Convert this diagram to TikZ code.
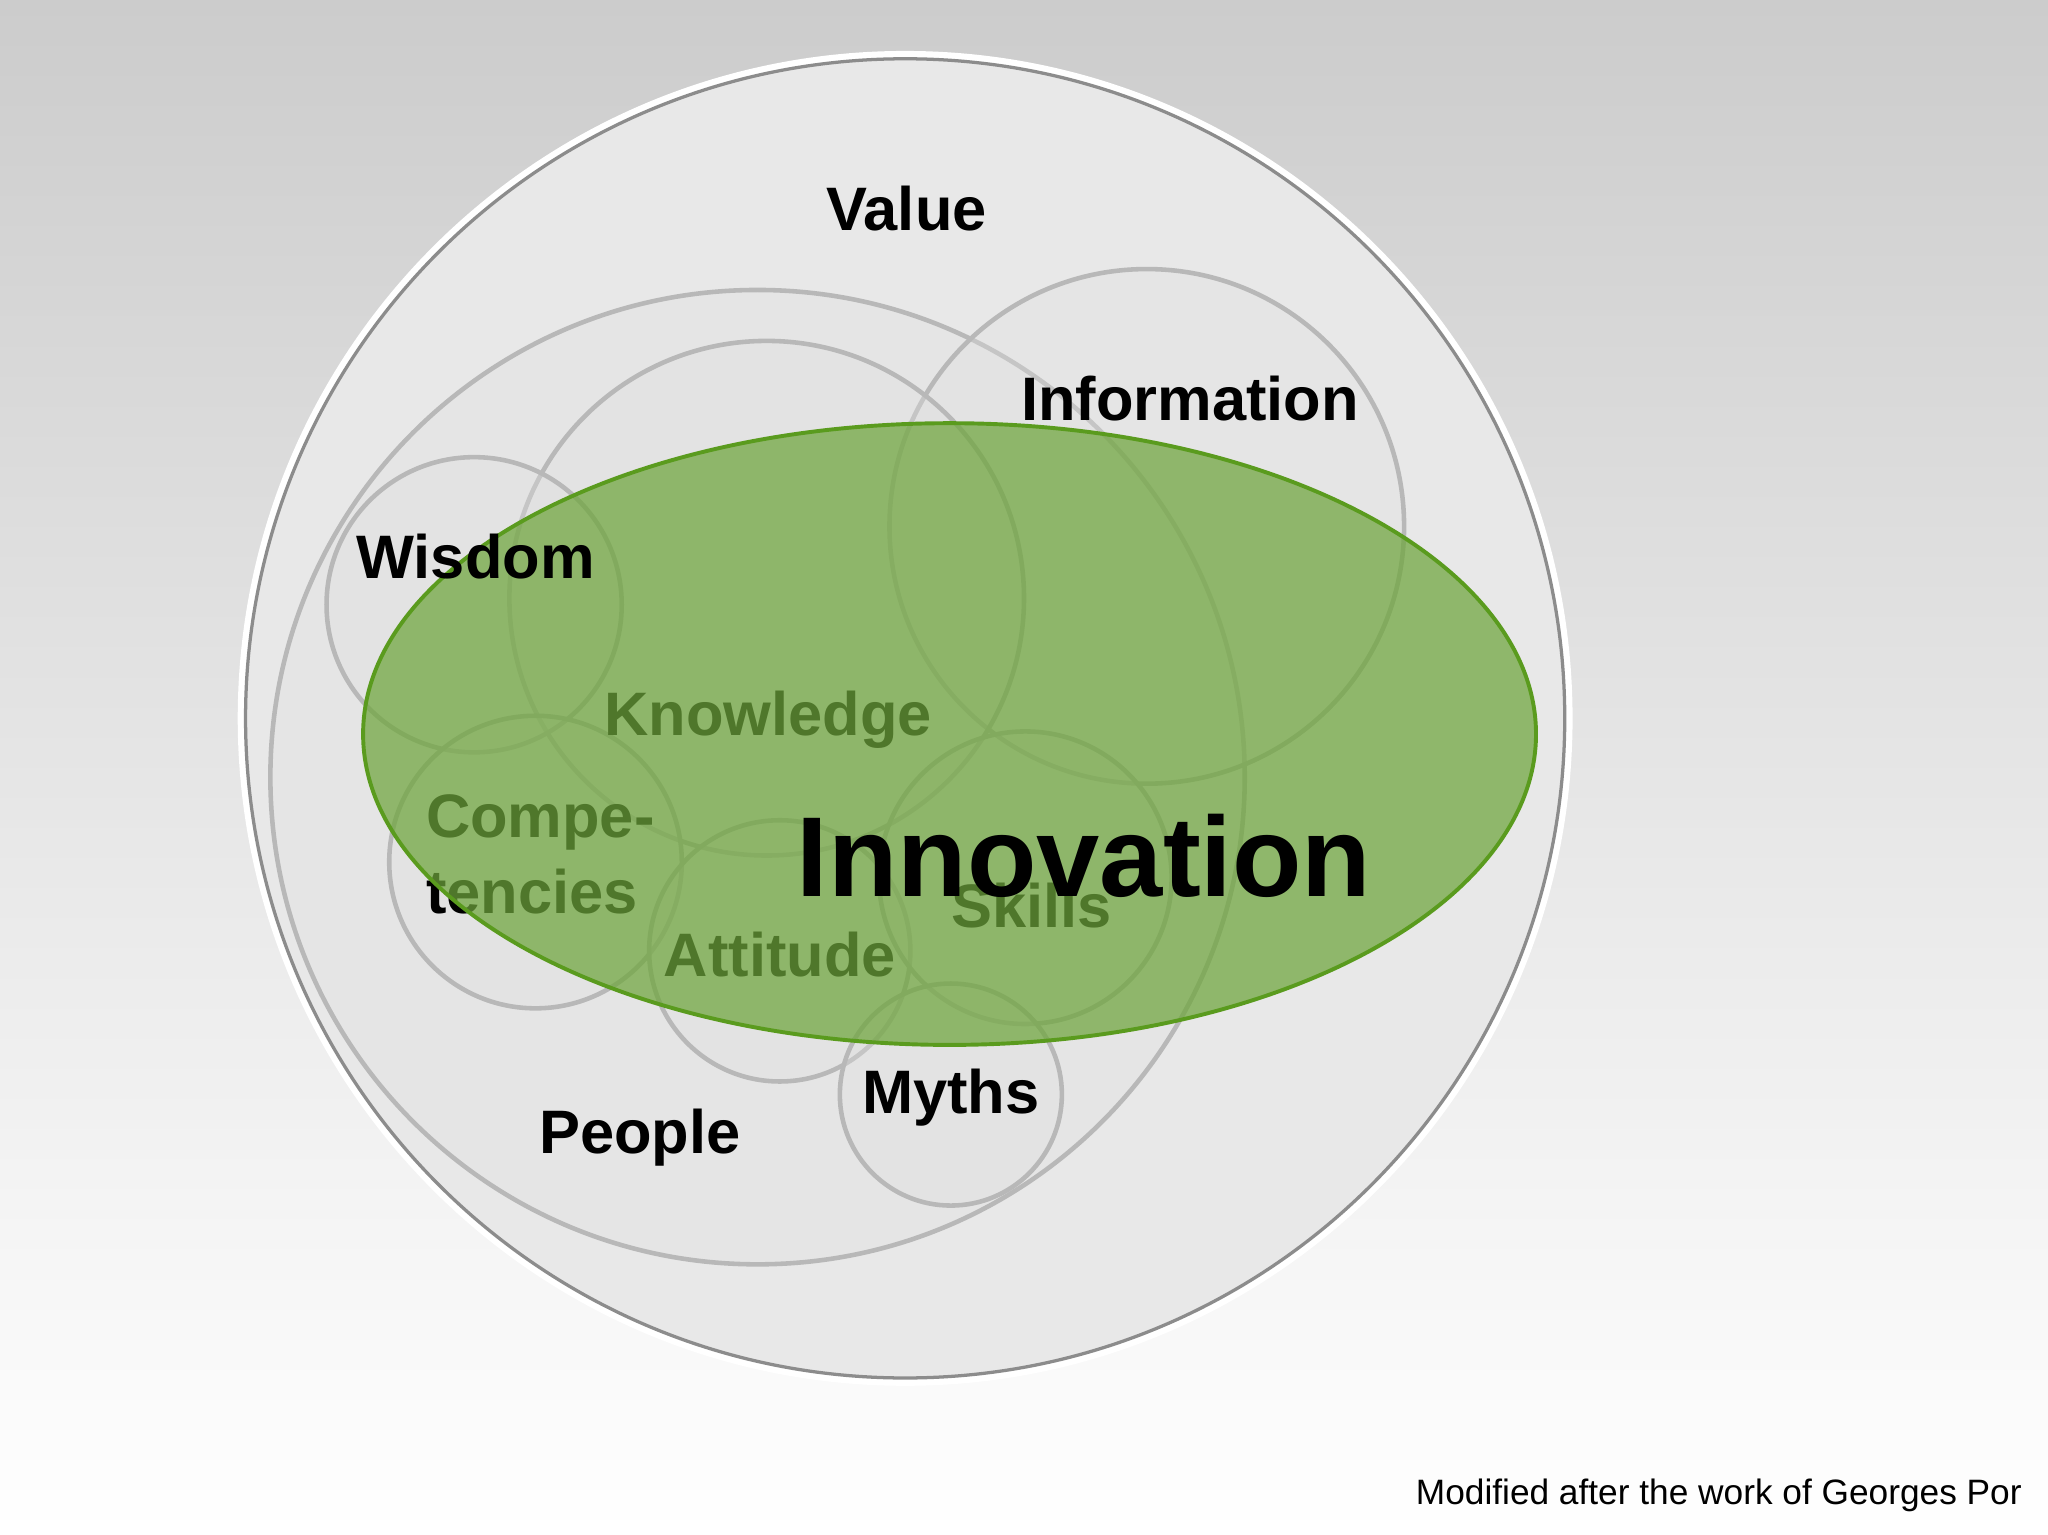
\documentclass[tikz,border=0pt]{standalone}
\usepackage{fontspec}
\setmainfont{Liberation Sans}
\begin{document}
\begin{tikzpicture}[x=1pt,y=-1pt,
  ring/.style={draw=black!28,line width=3.5pt,fill=black!12,fill opacity=0.35},
  lbl/.style={font=\bfseries\fontsize{47}{52}\selectfont,text=black,inner sep=0pt}]
\shade[top color=black!20,bottom color=white] (0,0) rectangle (1568,1175);
\useasboundingbox (0,0) rectangle (1568,1175);
\fill[white] (693,550) circle (511);
\draw[black!45,line width=2.5pt,fill=black!9] (693,550) circle (505);
\node[circle,minimum size=746,ring] (people) at (580,595) {};
\node[circle,minimum size=394,ring] (info) at (878,403) {};
\node[circle,minimum size=394,ring] (know) at (587,458) {};
\node[circle,minimum size=226,ring] (wis) at (363,463) {};
\node[circle,minimum size=224,ring] (comp) at (410,660) {};
\node[circle,minimum size=200,ring] (att) at (597,728) {};
\node[circle,minimum size=224,ring] (sk) at (785,672) {};
\node[circle,minimum size=170,ring] (my) at (728,838) {};
\node[lbl] (tknow) at (588,551) {Knowledge};
\node[lbl,align=left,anchor=north west] (tcomp) at (326,608) {Compe-\\[6pt]tencies};
\node[lbl] (tatt) at (597,731) {Attitude};
\node[lbl] (tsk) at (790,693) {Skills};
\draw[line width=3pt,draw={rgb,255:red,90;green,155;blue,30},fill={rgb,255:red,110;green,165;blue,60},fill opacity=0.72] (727,562) ellipse (449 and 238);
\node[lbl] (tval) at (694,160) {Value};
\node[lbl] (tinfo) at (911,305) {Information};
\node[lbl] (twis) at (364,426) {Wisdom};
\node[lbl] (tmy) at (728,840) {Myths};
\node[lbl] (tpeo) at (490,871) {People};
\node[font=\bfseries\fontsize{87}{92}\selectfont,inner sep=0pt] (inn) at (830,655) {Innovation};
\node[anchor=east,font=\fontsize{27}{30}\selectfont,inner sep=0pt] (foot) at (1548,1145) {Modified after the work of Georges Por};
\end{tikzpicture}
\end{document}
